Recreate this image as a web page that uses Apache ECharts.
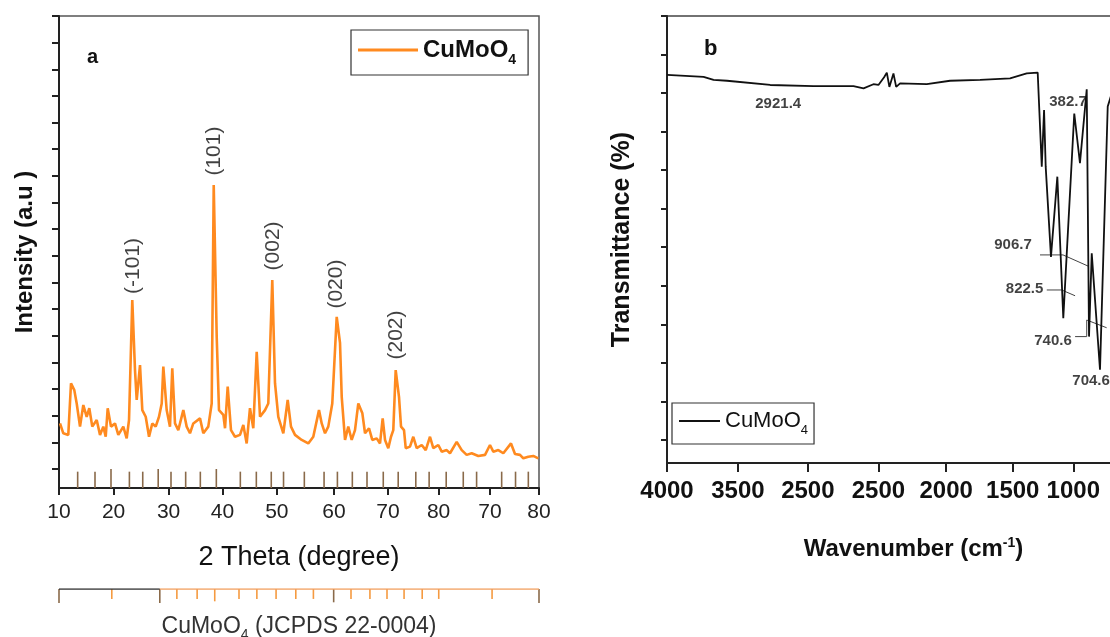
<!DOCTYPE html>
<html><head><meta charset="utf-8">
<script src="https://cdn.jsdelivr.net/npm/echarts@6/dist/echarts.min.js"></script>
<style>html,body{margin:0;padding:0;background:#fff}#c{width:1110px;height:637px}</style>
</head><body><div id="c"></div>
<script>
const FONT = '"Liberation Sans", Arial, sans-serif';
const ORANGE = '#FF8A1F';
const BROWN = '#8a6a4a';

// ---------- Panel a : XRD ----------
const xrdTickPos = [10, 20.24, 30.55, 40.66, 50.84, 61.56, 71.69, 81.17, 90.81, 100];
const xrdTickLabels = ['10','20','30','40','50','60','70','80','70','80'];
const xrdYTicks = [0,1,2,3,4,5,6,7,8,9,10,11,12,13,14,15,16,17];
const xrdTheta = [10.19,10.81,11.74,12.25,12.87,13.32,13.94,14.56,15.19,15.68,
  16.24,17.07,17.69,18.31,18.76,19.13,19.75,20.50,21.12,22.06,
  22.69,23.13,23.74,24.25,24.57,25.19,25.62,26.26,26.88,27.49,
  28.13,28.75,29.26,29.56,30.19,30.81,31.24,31.75,32.37,33.31,
  33.94,34.56,35.18,36.44,37.06,37.99,38.63,39.01,39.57,40.0,
  40.81,41.13,41.63,42.25,43.0,43.94,44.56,45.19,45.81,46.43,
  47.07,47.69,48.63,49.24,49.99,50.5,51.12,52.06,52.88,53.5,
  54.25,55.51,56.74,57.68,58.75,59.26,59.88,60.49,61.24,62.07,
  62.69,63.01,63.63,64.24,64.88,65.5,66.12,66.88,67.38,68.13,
  68.74,69.57,70.19,70.69,71.13,71.74,72.25,72.68,73.13,73.75,
  74.13,74.69,75.01,75.81,76.43,77.07,78.01,78.76,79.56,80.18,
  81.12,81.76,82.69,83.31,84.57,85.51,86.44,87.38,88.62,89.88,
  90.81,91.43,92.37,93.31,94.75,95.5,96.44,97.06,97.99,98.93,99.87];
const xrdIntensity = [1.71,1.34,1.28,3.22,2.96,2.46,1.59,2.40,1.96,2.28,
  1.59,1.84,1.28,1.59,1.21,2.28,1.59,1.71,1.28,1.59,
  1.15,1.84,6.34,3.71,2.59,3.90,2.21,1.96,1.21,1.71,
  1.59,1.96,2.46,3.84,2.21,1.59,3.78,1.71,1.46,2.21,
  1.59,1.34,1.71,1.90,1.34,1.59,2.46,10.66,4.96,2.21,
  2.03,1.53,3.09,1.46,1.21,1.28,1.65,0.96,2.28,1.53,
  4.40,1.96,2.21,2.46,7.09,3.22,1.96,1.34,2.59,1.59,
  1.28,1.09,0.96,1.21,2.21,1.71,1.34,1.59,2.46,5.71,
  4.73,2.71,1.09,1.59,1.09,1.46,2.46,2.09,1.34,1.53,
  1.09,1.15,0.96,1.90,1.09,0.78,1.21,1.46,3.71,2.71,
  1.59,1.46,0.78,0.84,1.21,0.78,0.90,0.71,1.21,0.78,
  0.90,0.65,0.71,0.59,1.02,0.71,0.53,0.59,0.49,0.53,
  0.90,0.65,0.71,0.59,0.96,0.56,0.53,0.40,0.46,0.49,0.40];
const peakLabels = ['(-101)','(101)','(002)','(020)','(202)'];
const peakLabelX = [23.87, 39.06, 50.13, 61.94, 73.19];
const peakLabelY = [7.62, 11.93, 8.37, 6.94, 5.03];
// reference reflection markers inside panel a
const refX = [13.5,16.75,19.75,23.2,25.7,28.6,31.0,33.75,36.5,39.5,44.0,47.0,49.8,52.1,56.0,
  59.7,62.2,65.0,67.75,70.8,73.6,76.9,79.4,82.6,85.8,88.3,93.0,95.6,98.0];
const refTop = [-0.1,-0.1,0,-0.1,-0.1,0,-0.1,-0.1,-0.1,0,-0.1,-0.1,-0.1,-0.1,-0.1,
  -0.1,-0.1,-0.1,-0.1,-0.1,-0.1,-0.1,-0.1,-0.1,-0.1,-0.1,-0.1,-0.1,-0.1];
// JCPDS strip below
const jcpdsX = [10,19.9,28.9,32.1,35.9,39.2,43.75,47.1,50.7,54.4,57.7,61.5,64.75,68.3,71.5,74.7,78.1,81.2,91.2,100];
const jcpdsEnd = [0,0.29,0,0.29,0.29,0.12,0.29,0.29,0.29,0.29,0.29,0.05,0.29,0.29,0.29,0.29,0.29,0.29,0.29,0];
const jcpdsKind = [1,0,1,0,0,0,0,0,0,0,0,1,0,0,0,0,0,0,0,1];
const jcpdsSplit = 28.9;

// ---------- Panel b : FTIR ----------
const ftirTickPos = [4000, 3476, 2960, 2439, 1939, 1447, 1000];
const ftirTickLabels = ['4000','3500','2500','2500','2000','1500','1000'];
const ftirYTicks = [0,1,2,3,4,5,6,7,8,9,10,11];
const ftirWn = [4000,3730,3656,3557,3238,2918,2623,2549,2476,2439,2397,2377,2358,2328,2308,
  2279,2082,1910,1688,1467,1344,1263,1233,1216,1204,1165,1118,1074,993,951,901,884,864,803,746,690];
const ftirT = [9.47,9.42,9.34,9.32,9.21,9.18,9.18,9.12,9.23,9.21,9.41,9.53,9.16,9.51,9.16,
  9.25,9.23,9.32,9.34,9.38,9.51,9.53,7.09,8.56,7.09,4.75,6.83,3.16,8.47,7.18,9.10,2.68,4.84,1.82,8.65,9.3];
const ftirLabels = ['2921.4','382.7','906.7','822.5','740.6','704.6'];
const ftirLabelX = [3179, 1039, 1445, 1360, 1150, 869];
const ftirLabelY = [8.72, 8.77, 5.06, 3.92, 2.58, 1.53];
const leader906 = [[1246,4.80],[1076,4.80],[891,4.51]];
const leader822 = [[1196,3.89],[1086,3.89],[987,3.74]];
const leader740 = [[987,2.68],[901,2.68],[901,3.11],[754,2.91]];

function labelFor(pos, labels){
  return function(v){
    for (let i=0;i<pos.length;i++) if (Math.abs(pos[i]-v) < 1e-6) return labels[i];
    return '';
  };
}
function zip(a,b){ return a.map((v,i)=>[v,b[i]]); }

const chart = echarts.init(document.getElementById('c'), null, {renderer:'canvas'});
const subRich = (size, weight) => ({
  t:{fontSize:size, fontWeight:weight, fontFamily:FONT, color:'#111', lineHeight:size+4},
  s:{fontSize:Math.round(size*0.6), fontWeight:weight, fontFamily:FONT, color:'#111', verticalAlign:'bottom', lineHeight:Math.round(size*0.6), padding:[0,0,-3,0]}
});

chart.setOption({
  animation:false,
  backgroundColor:'#fff',
  title:[
    {text:'a', left:82, top:42, textStyle:{fontSize:20, fontWeight:'bold', color:'#111', fontFamily:FONT}},
    {text:'b', left:699, top:33, textStyle:{fontSize:22, fontWeight:'bold', color:'#111', fontFamily:FONT}}
  ],
  legend:[
    {data:['XRD'], left:351, top:30, icon:'rect', itemWidth:60, itemHeight:3, padding:[8,12,8,7],
     borderColor:'#333', borderWidth:1.2, selectedMode:false,
     formatter:()=> '{t|CuMoO}{s|4}', textStyle:{rich:subRich(24,'bold')}},
    {data:['FTIR'], left:672, top:403, icon:'rect', itemWidth:41, itemHeight:2, padding:[7,6,7,7],
     borderColor:'#333', borderWidth:1.2, selectedMode:false,
     formatter:()=> '{t|CuMoO}{s|4}', textStyle:{rich:subRich(22,'normal')}}
  ],
  grid:[
    {left:59, top:16, width:480, bottom:149, show:true, borderColor:'#555', borderWidth:1.5, outerBoundsMode:'none', containLabel:false},
    {left:667, top:16, width:493, bottom:174, show:true, borderColor:'#444', borderWidth:1.5, outerBoundsMode:'none', containLabel:false},
    {left:59, top:589, width:480, height:14, outerBoundsMode:'none', containLabel:false}
  ],
  xAxis:[
    {type:'value', gridIndex:0, min:10, max:100,
     name:'2 Theta (degree)', nameLocation:'middle', nameGap:56,
     nameTextStyle:{fontSize:27, color:'#111', fontFamily:FONT},
     axisLine:{onZero:false, lineStyle:{color:'#222', width:2}},
     axisTick:{customValues:xrdTickPos, length:7, lineStyle:{color:'#222', width:2}},
     axisLabel:{customValues:xrdTickPos, formatter:labelFor(xrdTickPos, xrdTickLabels),
       fontSize:21, color:'#222', fontFamily:FONT, margin:14},
     splitLine:{show:false}},
    {type:'value', gridIndex:1, min:360, max:4000, inverse:true,
     name:'{t|Wavenumber (cm}{p|-1}{t|)}', nameLocation:'middle', nameGap:73,
     nameTextStyle:{rich:{t:{fontSize:24, fontWeight:'bold', color:'#111', fontFamily:FONT},
       p:{fontSize:14, fontWeight:'bold', color:'#111', fontFamily:FONT, verticalAlign:'top', padding:[0,0,12,0]}}},
     axisLine:{onZero:false, lineStyle:{color:'#222', width:2}},
     axisTick:{customValues:ftirTickPos, length:9, lineStyle:{color:'#222', width:2}},
     axisLabel:{customValues:ftirTickPos, formatter:labelFor(ftirTickPos, ftirTickLabels),
       fontSize:24, fontWeight:'bold', color:'#111', fontFamily:FONT, margin:16, hideOverlap:false},
     splitLine:{show:false}},
    {type:'value', gridIndex:2, min:10, max:100,
     name:'{t|CuMoO}{s|4}{t| (JCPDS 22-0004)}', nameLocation:'middle', nameGap:12,
     nameTextStyle:{rich:{t:{fontSize:23, color:'#333', fontFamily:FONT},
       s:{fontSize:14, color:'#333', fontFamily:FONT, verticalAlign:'bottom', padding:[0,0,-4,0]}}},
     axisLine:{show:false, onZero:false}, axisTick:{show:false}, axisLabel:{show:false}, splitLine:{show:false}}
  ],
  yAxis:[
    {type:'value', gridIndex:0, min:-0.713, max:17,
     name:'Intensity (a.u )', nameLocation:'middle', nameGap:22, nameRotate:90,
     nameTextStyle:{fontSize:24, fontWeight:'bold', color:'#111', fontFamily:FONT},
     axisLine:{show:true, onZero:false, lineStyle:{color:'#222', width:2}},
     axisTick:{show:true, customValues:xrdYTicks, length:7, lineStyle:{color:'#222', width:2}},
     axisLabel:{show:false}, splitLine:{show:false}},
    {type:'value', gridIndex:1, min:-0.6, max:11,
     name:'Transmittance (%)', nameLocation:'middle', nameGap:32, nameRotate:90,
     nameTextStyle:{fontSize:25, fontWeight:'bold', color:'#111', fontFamily:FONT},
     axisLine:{show:true, onZero:false, lineStyle:{color:'#222', width:2}},
     axisTick:{show:true, customValues:ftirYTicks, length:6, lineStyle:{color:'#222', width:2}},
     axisLabel:{show:false}, splitLine:{show:false}},
    {type:'value', gridIndex:2, min:0, max:1, show:false}
  ],
  series:[
    {type:'custom', xAxisIndex:0, yAxisIndex:0, silent:true, z:2,
     data: refX.map((x,i)=>[x, refTop[i], -0.713]),
     renderItem:(params, api)=>{
       const p0 = api.coord([api.value(0), api.value(1)]);
       const p1 = api.coord([api.value(0), api.value(2)]);
       return {type:'line', shape:{x1:p0[0], y1:p0[1], x2:p1[0], y2:p1[1]}, style:{stroke:BROWN, lineWidth:1.6}};
     }},
    {name:'XRD', type:'line', xAxisIndex:0, yAxisIndex:0, data:zip(xrdTheta, xrdIntensity),
     symbol:'none', showSymbol:false, lineStyle:{color:ORANGE, width:2.6}, itemStyle:{color:ORANGE}, z:3},
    {type:'scatter', xAxisIndex:0, yAxisIndex:0, silent:true, symbolSize:1, itemStyle:{color:'rgba(0,0,0,0)'},
     data: peakLabelX.map((x,i)=>({value:[x, peakLabelY[i]], name:peakLabels[i]})),
     label:{show:true, position:'inside', rotate:90, formatter:p=>p.name, fontSize:21, color:'#111', fontFamily:FONT}},
    {type:'line', xAxisIndex:2, yAxisIndex:2, silent:true, symbol:'none', data:[[10,1],[jcpdsSplit,1]], lineStyle:{color:'#333', width:1.5}},
    {type:'line', xAxisIndex:2, yAxisIndex:2, silent:true, symbol:'none', data:[[jcpdsSplit,1],[100,1]], lineStyle:{color:'#F2A060', width:1.5}},
    {type:'custom', xAxisIndex:2, yAxisIndex:2, silent:true,
     data: jcpdsX.map((x,i)=>[x, 1, jcpdsEnd[i], jcpdsKind[i]]),
     renderItem:(params, api)=>{
       const p0 = api.coord([api.value(0), api.value(1)]);
       const p1 = api.coord([api.value(0), api.value(2)]);
       return {type:'line', shape:{x1:p0[0], y1:p0[1], x2:p1[0], y2:p1[1]},
         style:{stroke: api.value(3)===1 ? BROWN : '#F59A40', lineWidth:1.6}};
     }},
    {type:'scatter', xAxisIndex:1, yAxisIndex:1, silent:true, symbolSize:1, itemStyle:{color:'rgba(0,0,0,0)'}, z:1,
     data: ftirLabelX.map((x,i)=>({value:[x, ftirLabelY[i]], name:ftirLabels[i]})),
     label:{show:true, position:'inside', formatter:p=>p.name, fontSize:15, fontWeight:'bold', color:'#111', fontFamily:FONT}},
    {type:'line', xAxisIndex:1, yAxisIndex:1, silent:true, symbol:'none', data:leader906, lineStyle:{color:'#444', width:1}},
    {type:'line', xAxisIndex:1, yAxisIndex:1, silent:true, symbol:'none', data:leader822, lineStyle:{color:'#444', width:1}},
    {type:'line', xAxisIndex:1, yAxisIndex:1, silent:true, symbol:'none', data:leader740, lineStyle:{color:'#444', width:1}},
    {name:'FTIR', type:'line', xAxisIndex:1, yAxisIndex:1, data:zip(ftirWn, ftirT),
     symbol:'none', showSymbol:false, lineStyle:{color:'#111', width:1.8}, itemStyle:{color:'#111'}, z:3}
  ]
});
</script>
</body></html>
